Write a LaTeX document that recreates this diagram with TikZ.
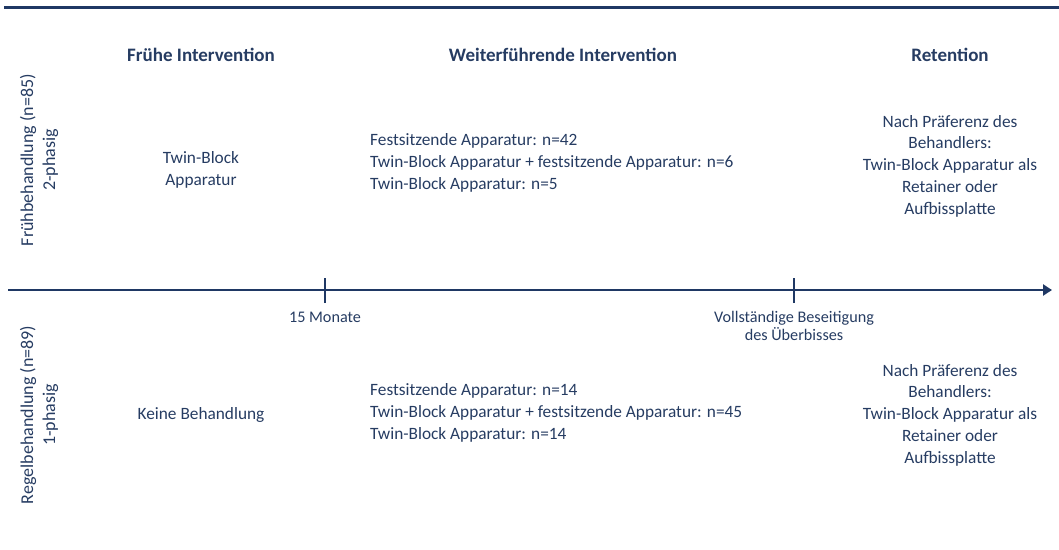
\documentclass[tikz,border=0pt]{standalone}
\usepackage{fontspec}
\setmainfont{Carlito}
\usetikzlibrary{arrows.meta}
\definecolor{navy}{RGB}{31,56,100}
\definecolor{txt}{RGB}{38,60,98}
\begin{document}
\begin{tikzpicture}[x=1pt,y=-1pt,
  every node/.style={text=txt,inner sep=0pt,font=\fontsize{17.3}{21.7}\selectfont},
  head/.style={font=\fontsize{19}{22}\selectfont\bfseries},
  body/.style={align=center},
  listing/.style={align=left,anchor=west},
  side/.style={rotate=90,align=center,font=\fontsize{18}{22}\selectfont},
  mark label/.style={font=\fontsize{16.2}{17.5}\selectfont,align=center},
  axis/.style={draw=navy,line width=2.6pt},
  tick/.style={draw=navy,line width=2.6pt}]
\useasboundingbox (0,0) rectangle (1059,549);
% top rule
\draw[draw=navy,line width=3pt] (4,7) -- (1059,7);
% column headings
\node[head] (h1) at (201,55) {Frühe Intervention};
\node[head] (h2) at (563,55) {Weiterführende Intervention};
\node[head] (h3) at (950,55) {Retention};
% group labels
\node[side] (g1) at (39,160) {Frühbehandlung (n=85)\\2-phasig};
\node[side] (g2) at (39,415) {Regelbehandlung (n=89)\\1-phasig};
% timeline
\coordinate (t0) at (8,290);
\coordinate (t1) at (1052,290);
\draw[axis,-{Triangle[length=9pt,width=11pt]}] (t0) -- (t1);
\coordinate (m1) at (325,290);
\coordinate (m2) at (794,290);
\draw[tick] ([yshift=-13pt]m1) -- ([yshift=12pt]m1);
\draw[tick] ([yshift=-13pt]m2) -- ([yshift=12pt]m2);
\node[mark label] (l1) at (325,317) {15 Monate};
\node[mark label] (l2) at (794,326) {Vollständige Beseitigung\\des Überbisses};
% upper group
\node[body] (a1) at (201,170) {Twin-Block\\Apparatur};
\node[listing] (b1) at (370,163) {Festsitzende Apparatur: n=42\\Twin-Block Apparatur + festsitzende Apparatur: n=6\\Twin-Block Apparatur: n=5};
\node[body] (c1) at (950,166) {Nach Präferenz des\\Behandlers:\\Twin-Block Apparatur als\\Retainer oder\\Aufbissplatte};
% lower group
\node[body] (a2) at (201,415) {Keine Behandlung};
\node[listing] (b2) at (370,413) {Festsitzende Apparatur: n=14\\Twin-Block Apparatur + festsitzende Apparatur: n=45\\Twin-Block Apparatur: n=14};
\node[body] (c2) at (950,415) {Nach Präferenz des\\Behandlers:\\Twin-Block Apparatur als\\Retainer oder\\Aufbissplatte};
\end{tikzpicture}
\end{document}
